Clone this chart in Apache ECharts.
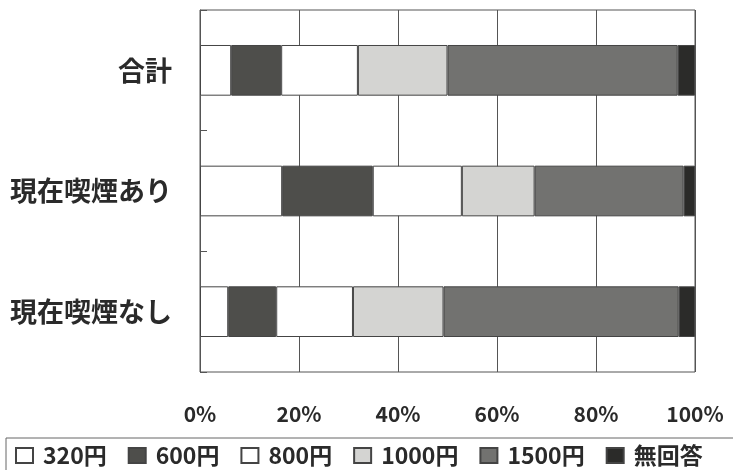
<!DOCTYPE html>
<html><head><meta charset="utf-8">
<script src="https://cdn.jsdelivr.net/npm/echarts@6/dist/echarts.min.js"></script>
<style>html,body{margin:0;padding:0;background:#fff}#c{width:733px;height:470px}</style>
</head><body><div id="c"></div>
<script>
const categories = ['合計', '現在喫煙あり', '現在喫煙なし'];
const seriesNames = ['320円', '600円', '800円', '1000円', '1500円', '無回答'];
const v320 = [6.3, 16.6, 5.7];
const v600 = [10.1, 18.3, 9.7];
const v800 = [15.5, 18.0, 15.5];
const v1000 = [18.1, 14.7, 18.3];
const v1500 = [46.5, 30.1, 47.5];
const vNone = [3.5, 2.3, 3.3];
const xTicks = [0, 20, 40, 60, 80, 100];

const values = [v320, v600, v800, v1000, v1500, vNone];
const colors = ['#ffffff', '#4e4e4b', '#ffffff', '#d4d4d2', '#727270', '#2b2b29'];
const font = '"Noto Sans CJK JP", "Noto Sans", sans-serif';

const chart = echarts.init(document.getElementById('c'));
chart.setOption({
  animation: false,
  backgroundColor: '#fff',
  grid: { left: 200, right: 38, top: 10, bottom: 98, show: true, borderColor: '#555', borderWidth: 1 },
  xAxis: {
    type: 'value', min: 0, max: 100, interval: 20,
    axisLine: { show: false },
    axisTick: { show: false },
    splitLine: { lineStyle: { color: '#555', width: 1 } },
    axisLabel: {
      margin: 32, fontSize: 21, fontWeight: 'bold', color: '#2a2a2a', fontFamily: font,
      formatter: v => xTicks.includes(v) ? v + '%' : ''
    }
  },
  yAxis: {
    type: 'category', data: categories, inverse: true,
    axisLine: { show: true, lineStyle: { color: '#555' } },
    axisTick: { show: true, inside: true, length: 7, lineStyle: { color: '#555' } },
    axisLabel: { margin: 28, fontSize: 27, fontWeight: 'bold', color: '#2a2a2a', fontFamily: font }
  },
  legend: {
    left: 6, top: 438, width: 900,
    padding: [6, 40, 10, 9],
    borderColor: '#666', borderWidth: 1,
    itemWidth: 17, itemHeight: 15, itemGap: 21,
    icon: 'rect',
    textStyle: { fontSize: 23, fontWeight: 'bold', color: '#2a2a2a', fontFamily: font, padding: [0, 0, 0, 5] },
    data: seriesNames
  },
  series: seriesNames.map((name, i) => ({
    name, type: 'bar', stack: 'total', data: values[i],
    barWidth: '42%',
    itemStyle: { color: colors[i], borderColor: '#444', borderWidth: 1 }
  }))
});
</script></body></html>
